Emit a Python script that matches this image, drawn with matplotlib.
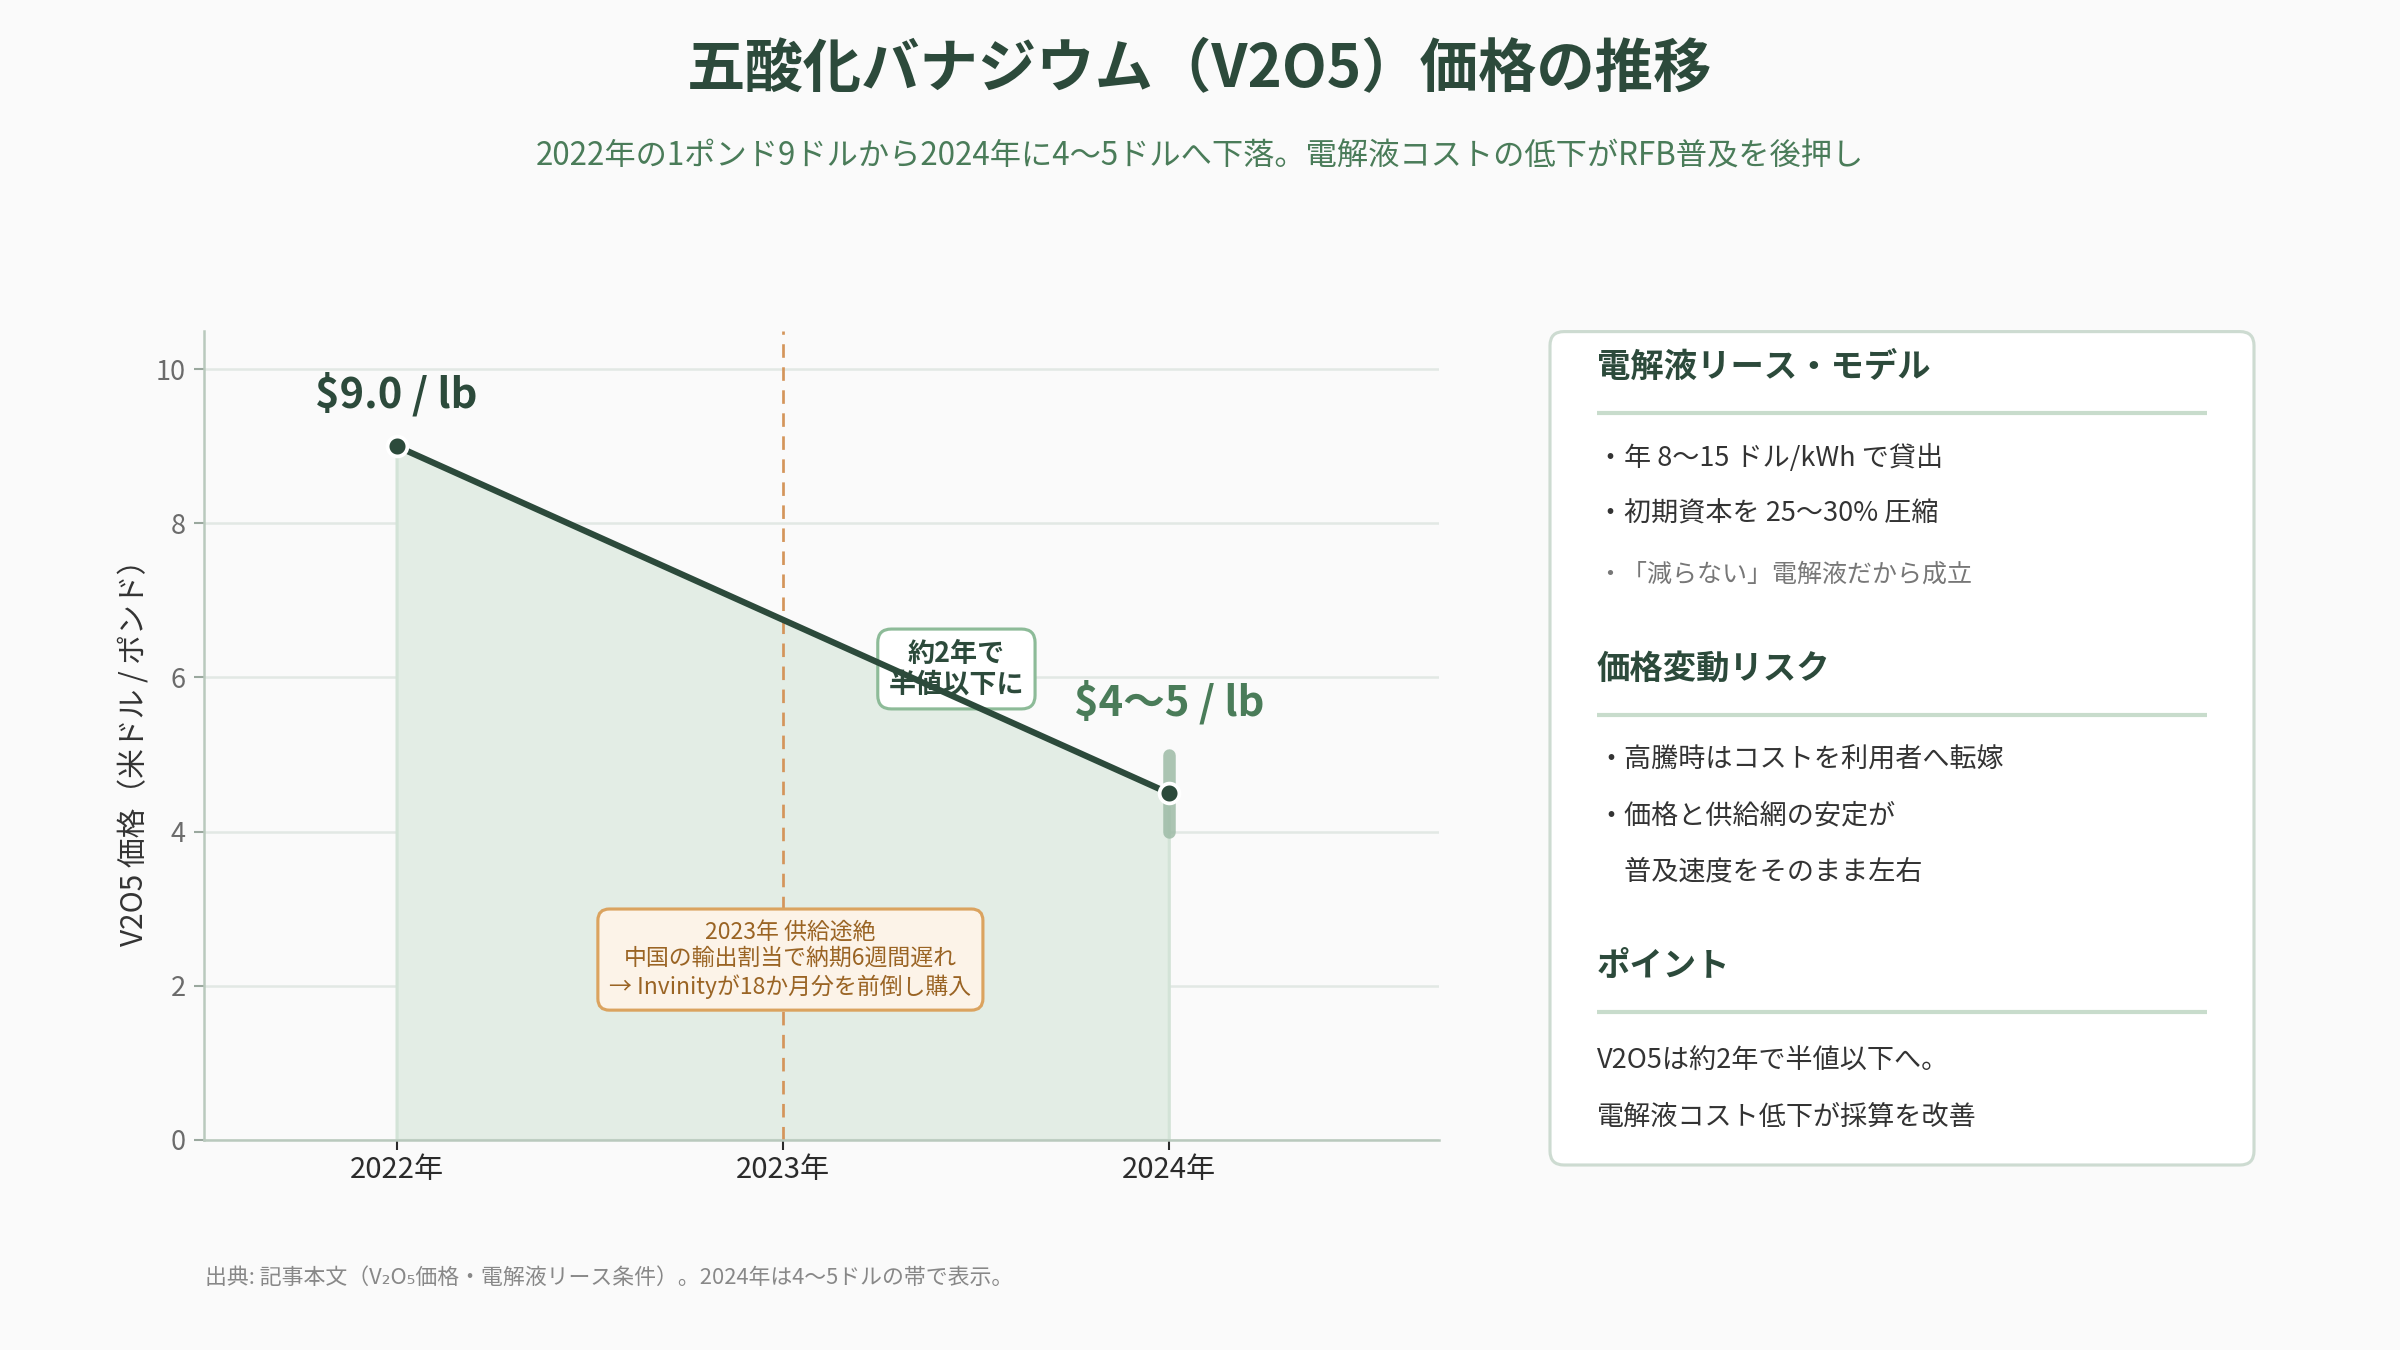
import matplotlib.pyplot as plt
from matplotlib.patches import FancyBboxPatch

plt.rcParams['font.family'] = ['Noto Sans CJK JP', 'DejaVu Sans']

# data
year_labels = ['2022年', '2023年', '2024年']
price_x = [0, 2]
prices = [9.0, 4.5]
band_2024 = [4.0, 5.0]
yticks = [0, 2, 4, 6, 8, 10]

title = '五酸化バナジウム（V2O5）価格の推移'
subtitle = '2022年の1ポンド9ドルから2024年に4〜5ドルへ下落。電解液コストの低下がRFB普及を後押し'
ylabel = 'V2O5 価格（米ドル / ポンド）'
label_start = r'\$9.0 / lb'
label_end = r'\$4〜5 / lb'
note_half = '約2年で\n半値以下に'
note_2023 = '2023年 供給途絶\n中国の輸出割当で納期6週間遅れ\n→ Invinityが18か月分を前倒し購入'
footer = '出典: 記事本文（V₂O₅価格・電解液リース条件）。2024年は4〜5ドルの帯で表示。'

panel_sections = [
    ('電解液リース・モデル',
     [('・年 8〜15 ドル/kWh で貸出', 'body'),
      ('・初期資本を 25〜30% 圧縮', 'body'),
      ('・「減らない」電解液だから成立', 'note')]),
    ('価格変動リスク',
     [('・高騰時はコストを利用者へ転嫁', 'body'),
      ('・価格と供給網の安定が', 'body'),
      ('　普及速度をそのまま左右', 'body')]),
    ('ポイント',
     [('V2O5は約2年で半値以下へ。', 'plain'),
      ('電解液コスト低下が採算を改善', 'plain')]),
]

dark = '#2c4a3b'
green = '#4a7c59'
bg = '#fafafa'

fig = plt.figure(figsize=(16, 9), dpi=150, facecolor=bg)

fig.text(0.5, 0.949, title, ha='center', va='center', fontsize=28,
         weight='bold', color=dark)
fig.text(0.5, 0.884, subtitle, ha='center', va='center', fontsize=15,
         color=green)

# main chart
ax = fig.add_axes([0.0848, 0.1556, 0.5148, 0.5995])
ax.set_facecolor(bg)
ax.fill_between(price_x, prices, 0, facecolor='#e3ede5', edgecolor='#d3e3d7',
                lw=1.5, zorder=1)
ax.axvline(1, color='#d4955a', lw=1.3, dashes=(5, 3.5), zorder=1.5)
ax.plot([2, 2], band_2024, color='#9dbba6', alpha=0.85, lw=6,
        solid_capstyle='round', zorder=2)
ax.plot(price_x, prices, color=dark, lw=3, zorder=3)
ax.plot(price_x, prices, 'o', ms=9.5, mfc=dark, mec='white', mew=1.8, zorder=4)

ax.annotate(label_start, (price_x[0], prices[0]), xytext=(0, 25),
            textcoords='offset points', ha='center', va='center',
            fontsize=20, weight='bold', color=dark)
ax.annotate(label_end, (2, band_2024[1]), xytext=(0, 25),
            textcoords='offset points', ha='center', va='center',
            fontsize=20, weight='bold', color=green)

ax.text(1.45, 6.11, note_half, ha='center', va='center', fontsize=13,
        weight='bold', color=dark, linespacing=1.1, zorder=2.5,
        bbox=dict(boxstyle='round,pad=0.4,rounding_size=0.5', fc='white',
                  ec='#8dbb98', lw=1.5))
ax.text(1.02, 2.34, note_2023, ha='center', va='center', fontsize=11,
        color='#9a6424', linespacing=1.2, zorder=5,
        bbox=dict(boxstyle='round,pad=0.5,rounding_size=0.5', fc='#fcf3e8',
                  ec='#dba35f', lw=1.5))

ax.set_xlim(-0.5, 2.7)
ax.set_ylim(0, 10.5)
ax.set_xticks(range(len(year_labels)))
ax.set_xticklabels(year_labels)
ax.set_yticks(yticks)
ax.tick_params(axis='x', labelsize=14, labelcolor='#2b2b2b', color='#2b2b2b',
               length=5, width=1, pad=2)
ax.tick_params(axis='y', labelsize=13, labelcolor='#6b6b6b', color='#9aa89e',
               length=5, width=1)
for s in ['top', 'right']:
    ax.spines[s].set_visible(False)
for s in ['left', 'bottom']:
    ax.spines[s].set_color('#b9c9bd')
    ax.spines[s].set_linewidth(1.2)
ax.yaxis.grid(True, color='#e2e8e4', lw=1.2)
ax.set_axisbelow(True)

fig.text(0.0563, 0.448, ylabel, rotation=90, ha='center', va='center',
         fontsize=14.3, color='#333333')

# side panel
pw, ph = 706, 835.4
pax = fig.add_axes([1549 / 2400, 1 - 1166 / 1350, pw / 2400, ph / 1350])
pax.set_xlim(0, pw)
pax.set_ylim(ph, 0)
pax.axis('off')
pax.add_patch(FancyBboxPatch((1, 1), pw - 2, ph - 2,
                             boxstyle='round,pad=0,rounding_size=14',
                             fc='white', ec='#cddbd1', lw=1.5, clip_on=False))

y = 36.5
for heading, rows in panel_sections:
    pax.text(48, y, heading, ha='left', va='center', fontsize=16,
             weight='bold', color=dark)
    pax.plot([48, 658], [y + 46, y + 46], color='#c8dccc', lw=2,
             solid_capstyle='butt')
    ly = y + 91
    if rows[0][1] == 'plain':
        ly += 4
    for i, (txt, kind) in enumerate(rows):
        if kind == 'note':
            ly += 5
            pax.text(48, ly, txt, ha='left', va='center', fontsize=12,
                     color='#777777')
        else:
            pax.text(48, ly, txt, ha='left', va='center', fontsize=13,
                     color='#333333')
        if i < len(rows) - 1:
            ly += 56
    y = ly + 94

fig.text(0.0854, 0.0533, footer, ha='left', va='center', fontsize=10.5,
         color='#888888')

fig.savefig('out.png', dpi=150, facecolor=bg)
